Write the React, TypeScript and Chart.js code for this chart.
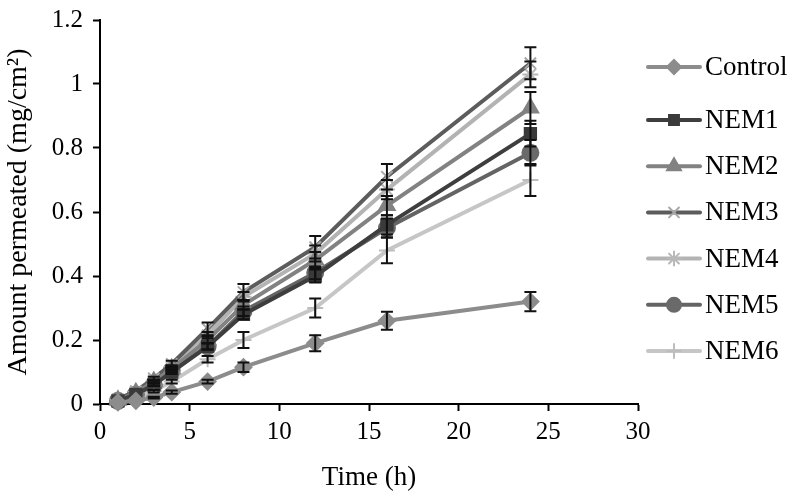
import React, { useEffect, useRef } from "react";
import { Chart, registerables } from "chart.js";
import { drawPoint } from "chart.js/helpers";

Chart.register(...registerables);

// ---- data ----
const times = [1, 2, 3, 4, 6, 8, 12, 16, 24];
const seriesNames = ["Control", "NEM1", "NEM2", "NEM3", "NEM4", "NEM5", "NEM6"];

const control = [0.005, 0.01, 0.02, 0.037, 0.07, 0.115, 0.19, 0.26, 0.32];
const nem1 = [0.01, 0.03, 0.06, 0.1, 0.18, 0.28, 0.4, 0.56, 0.845];
const nem2 = [0.012, 0.035, 0.07, 0.11, 0.2, 0.31, 0.45, 0.62, 0.925];
const nem3 = [0.015, 0.04, 0.08, 0.125, 0.235, 0.35, 0.49, 0.71, 1.065];
const nem4 = [0.012, 0.037, 0.072, 0.115, 0.215, 0.335, 0.47, 0.67, 1.03];
const nem5 = [0.01, 0.03, 0.06, 0.105, 0.18, 0.29, 0.41, 0.55, 0.785];
const nem6 = [0.008, 0.02, 0.04, 0.07, 0.14, 0.2, 0.3, 0.48, 0.7];

const controlErr = [0, 0, 0.003, 0.005, 0.006, 0.015, 0.025, 0.028, 0.03];
const nem1Err = [0, 0, 0.004, 0.006, 0.01, 0.015, 0.02, 0.03, 0.04];
const nem2Err = [0, 0, 0.004, 0.006, 0.01, 0.015, 0.025, 0.03, 0.05];
const nem3Err = [0, 0, 0.005, 0.01, 0.02, 0.025, 0.035, 0.04, 0.05];
const nem4Err = [0, 0, 0.004, 0.006, 0.01, 0.015, 0.025, 0.03, 0.04];
const nem5Err = [0, 0, 0.004, 0.006, 0.01, 0.015, 0.02, 0.03, 0.04];
const nem6Err = [0, 0, 0.004, 0.006, 0.01, 0.025, 0.03, 0.04, 0.05];

const xTickValues = [0, 5, 10, 15, 20, 25, 30];
const yTickValues = [0, 0.2, 0.4, 0.6, 0.8, 1, 1.2];
const yTickLabels = ["0", "0.2", "0.4", "0.6", "0.8", "1", "1.2"];

const allValues = [control, nem1, nem2, nem3, nem4, nem5, nem6];
const allErrors = [controlErr, nem1Err, nem2Err, nem3Err, nem4Err, nem5Err, nem6Err];

// ---- styles ----
const lineColors = ["#8c8c8c", "#3e3e3e", "#828282", "#5c5c5c", "#b3b3b3", "#646464", "#c6c6c6"];
const markerFill = ["#8c8c8c", "#3a3a3a", "#828282", "#a8a8a8", "#b8b8b8", "#6a6a6a", "#bdbdbd"];
const markerStyles = ["rectRot", "rect", "triangle", "crossRot", "star", "circle", "cross"];
const markerRadius = [8, 8, 9, 8, 8, 8, 8];
const FONT = "'Liberation Serif', 'Times New Roman', serif";

const errorBarPlugin = {
  id: "errorBars",
  afterDatasetsDraw(chart: any) {
    const ctx = chart.ctx;
    const xs = chart.scales.x;
    const ys = chart.scales.y;
    ctx.save();
    ctx.strokeStyle = "#111";
    ctx.lineWidth = 2;
    chart.data.datasets.forEach((ds: any, i: number) => {
      const errs = allErrors[i];
      ds.data.forEach((pt: any, j: number) => {
        const e = errs[j];
        if (!e) return;
        const px = xs.getPixelForValue(pt.x);
        const top = ys.getPixelForValue(pt.y + e);
        const bot = ys.getPixelForValue(pt.y - e);
        ctx.beginPath();
        ctx.moveTo(px, top);
        ctx.lineTo(px, bot);
        ctx.moveTo(px - 6, top);
        ctx.lineTo(px + 6, top);
        ctx.moveTo(px - 6, bot);
        ctx.lineTo(px + 6, bot);
        ctx.stroke();
      });
    });
    ctx.restore();
  },
};

const legendPlugin = {
  id: "customLegend",
  afterDraw(chart: any) {
    const ctx = chart.ctx;
    ctx.save();
    seriesNames.forEach((name, i) => {
      const y = i === 0 ? 67 : 120 + (i - 1) * 46.2;
      ctx.strokeStyle = lineColors[i];
      ctx.lineWidth = 4;
      ctx.lineCap = "round";
      ctx.beginPath();
      ctx.moveTo(648, y);
      ctx.lineTo(700, y);
      ctx.stroke();
      ctx.fillStyle = markerFill[i];
      ctx.strokeStyle = markerFill[i];
      ctx.lineWidth = 2;
      drawPoint(ctx, { pointStyle: markerStyles[i], radius: markerRadius[i] - 1, rotation: 0, borderWidth: 2 } as any, 674, y);
      ctx.fillStyle = "#000";
      ctx.font = `27px ${FONT}`;
      ctx.textBaseline = "middle";
      ctx.textAlign = "left";
      ctx.fillText(name, 705, y + 1);
    });
    ctx.restore();
  },
};

export default function App() {
  const ref = useRef<HTMLCanvasElement | null>(null);
  useEffect(() => {
    if (!ref.current) return;
    const datasets = seriesNames.map((name, i) => ({
      label: name,
      data: times.map((t, j) => ({ x: t, y: allValues[i][j] })),
      borderColor: lineColors[i],
      backgroundColor: markerFill[i],
      pointBackgroundColor: markerFill[i],
      pointBorderColor: markerFill[i],
      pointBorderWidth: 2,
      borderWidth: 4,
      pointStyle: markerStyles[i],
      pointRadius: markerRadius[i],
      tension: 0,
      clip: false as any,
    }));
    const chart = new Chart(ref.current, {
      type: "line",
      data: { datasets },
      options: {
        animation: false,
        responsive: false,
        events: [],
        layout: { padding: { left: 0, right: 155, top: 10, bottom: 0 } },
        plugins: { legend: { display: false }, tooltip: { enabled: false } },
        scales: {
          x: {
            type: "linear",
            min: 0,
            max: 30,
            afterBuildTicks: (s: any) => {
              s.ticks = xTickValues.map((v) => ({ value: v }));
            },
            afterFit: (s: any) => {
              s.height = 94;
            },
            grid: { drawOnChartArea: false, color: "transparent", tickColor: "#000", tickLength: 7, tickWidth: 2 },
            border: { display: true, color: "#000", width: 2 },
            ticks: { color: "#000", font: { family: FONT, size: 25 }, padding: 6, maxRotation: 0 },
            title: { display: true, text: "Time (h)", color: "#000", font: { family: FONT, size: 27 }, padding: { top: 0, bottom: 4 } },
          },
          y: {
            type: "linear",
            min: 0,
            max: 1.2,
            afterBuildTicks: (s: any) => {
              s.ticks = yTickValues.map((v) => ({ value: v }));
            },
            afterFit: (s: any) => {
              s.width = 100;
            },
            grid: { drawOnChartArea: false, color: "transparent", tickColor: "#000", tickLength: 7, tickWidth: 2 },
            border: { display: true, color: "#000", width: 2 },
            ticks: {
              color: "#000",
              font: { family: FONT, size: 25, lineHeight: 0.8 },
              padding: 10,
              callback: (_v: any, i: number) => yTickLabels[i],
            },
            title: {
              display: true,
              text: "Amount permeated (mg/cm²)",
              color: "#000",
              font: { family: FONT, size: 28 },
              padding: { top: 2, bottom: 0 },
            },
          },
        },
      },
      plugins: [errorBarPlugin, legendPlugin],
    });
    return () => chart.destroy();
  }, []);
  return (
    <div style={{ position: "absolute", left: 0, top: 0, width: 793, height: 498, background: "#fff" }}>
      <canvas ref={ref} width={793} height={498} style={{ display: "block" }} />
    </div>
  );
}
